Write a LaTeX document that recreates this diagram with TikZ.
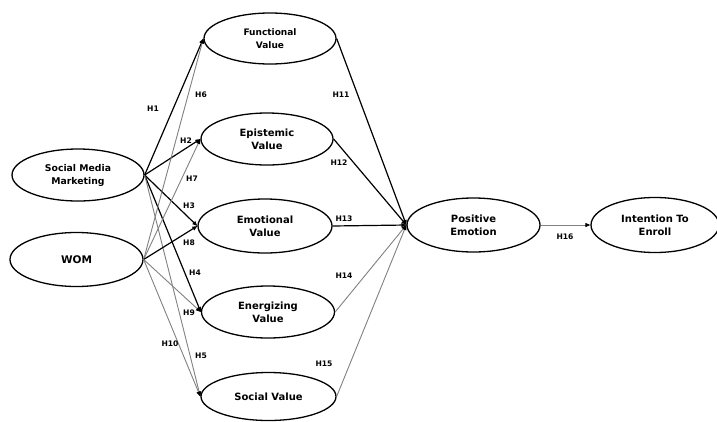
\documentclass[tikz,border=0pt]{standalone}
\usepackage{fontspec}
\setmainfont{DejaVu Sans}
\usetikzlibrary{shapes.geometric,arrows.meta}
\begin{document}
\begin{tikzpicture}[x=1pt,y=-1pt,
  oval/.style={draw,ellipse,line width=1.3pt,inner sep=0pt,align=center,font=\bfseries\fontsize{10}{13.3}\selectfont},
  tip/.style={-{Triangle[length=5pt,width=4pt,color=black]}},
  blk/.style={draw=black,line width=1.2pt,tip},
  gry/.style={draw=gray,line width=0.9pt,tip},
  hl/.style={font=\bfseries\fontsize{7.6}{9}\selectfont,inner sep=0pt}]
\useasboundingbox (0,0) rectangle (717,421);

\node[oval,minimum width=132pt,minimum height=51pt,font=\bfseries\fontsize{9}{12.5}\selectfont] (func) at (270,38.5) {Functional\\Value};
\node[oval,minimum width=132pt,minimum height=52pt] (epis) at (267,139) {Epistemic\\Value};
\node[oval,minimum width=134pt,minimum height=54pt] (emot) at (265,226) {Emotional\\Value};
\node[oval,minimum width=133pt,minimum height=52pt] (energ) at (268,312) {Energizing\\Value};
\node[oval,minimum width=135pt,minimum height=48pt] (soc) at (268.5,396.5) {Social Value};
\node[oval,minimum width=132pt,minimum height=52pt,font=\bfseries\fontsize{9.3}{13}\selectfont] (smm) at (78,175) {Social Media\\Marketing};
\node[oval,minimum width=133pt,minimum height=54pt,font=\bfseries\fontsize{10.5}{13}\selectfont] (wom) at (76.5,259.5) {WOM};
\node[oval,minimum width=133pt,minimum height=54pt] (pe) at (473.5,225) {Positive\\Emotion};
\node[oval,minimum width=128pt,minimum height=55pt] (inte) at (655,225) {Intention To\\Enroll};

\draw[blk] (smm.east) -- (func.west);
\draw[blk] (smm.east) -- (epis.west);
\draw[blk] (smm.east) -- (emot.west);
\draw[blk] (smm.east) -- (energ.west);
\draw[gry] (smm.east) -- (soc.west);

\draw[gry] (wom.east) -- (func.west);
\draw[gry] (wom.east) -- (epis.west);
\draw[blk] (wom.east) -- (emot.west);
\draw[gry] (wom.east) -- (energ.west);
\draw[gry] (wom.east) -- (soc.west);

\draw[blk] (func.east) -- (pe.west);
\draw[blk] (epis.east) -- (pe.west);
\draw[blk] (emot.east) -- (pe.west);
\draw[gry] (energ.east) -- (pe.west);
\draw[gry] (soc.east) -- (pe.west);
\draw[gry] (pe.east) -- (inte.west);

\node[hl] (h1) at (153,109) {H1};
\node[hl] (h6) at (201,95) {H6};
\node[hl] (h2) at (186,141) {H2};
\node[hl] (h7) at (192,179) {H7};
\node[hl] (h3) at (189,206) {H3};
\node[hl] (h8) at (189,243) {H8};
\node[hl] (h4) at (195,273) {H4};
\node[hl] (h9) at (189,313) {H9};
\node[hl] (h10) at (170,344) {H10};
\node[hl] (h5) at (201,356) {H5};
\node[hl] (h11) at (341,95) {H11};
\node[hl] (h12) at (339,163) {H12};
\node[hl] (h13) at (344,219) {H13};
\node[hl] (h14) at (344,276) {H14};
\node[hl] (h15) at (324,364) {H15};
\node[hl] (h16) at (565,237) {H16};
\end{tikzpicture}
\end{document}
